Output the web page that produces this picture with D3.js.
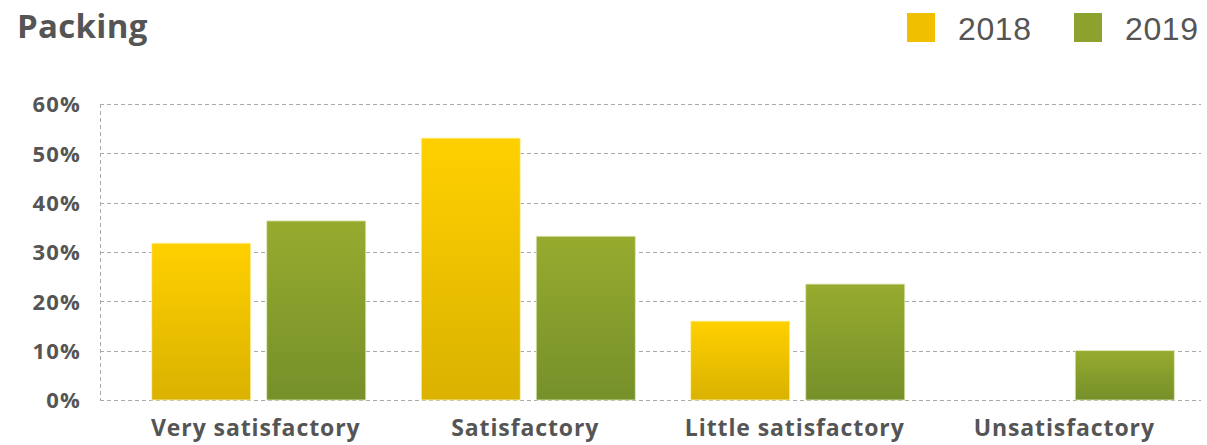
<!DOCTYPE html>
<html>
  <head>
    <meta charset="utf-8">
    <title>Packing</title>
    <script src="https://d3js.org/d3.v7.min.js"></script>
    <style>
      body { margin: 0; background: white; }
      #chart { display: block; }
      .title { font-family: "Open Sans", sans-serif; font-weight: 700; font-size: 33px; fill: #555; letter-spacing: 0.3px; }
      .tick text { font-family: "Open Sans", sans-serif; font-weight: 700; fill: #555; }
      .yaxis .tick text { font-size: 22px; letter-spacing: 1.2px; }
      .xaxis .tick text { font-size: 23px; letter-spacing: 0.9px; }
      .legend text { font-family: "Liberation Sans", Arial, sans-serif; font-size: 32px; fill: #555; letter-spacing: 0.6px; }
      .grid line { stroke: #aaa; stroke-width: 1; stroke-dasharray: 4 3; }
    </style>
  </head>
  <body>
    <svg id="chart" width="1207" height="445"></svg>
    <script>
      // data
      categories = ["Very satisfactory", "Satisfactory", "Little satisfactory", "Unsatisfactory"];
      years = ["2018", "2019"];
      values2018 = [0.318, 0.531, 0.16, 0];
      values2019 = [0.363, 0.332, 0.235, 0.10];
      yTicks = [0, 0.1, 0.2, 0.3, 0.4, 0.5, 0.6];

      svg = d3.select("#chart");
      margin = { left: 100, right: 1201, top: 104, bottom: 400 };

      // gradients
      defs = svg.append("defs");
      colours = {
        "2018": { top: "#ffd000", bottom: "#dab200", legend: "#f0c000", edge: "#fff3b8" },
        "2019": { top: "#96ab2e", bottom: "#76902a", legend: "#8ba22f", edge: "#dfe8b8" }
      };
      years.forEach(function(yr) {
        let g = defs.append("linearGradient")
          .attr("id", "grad" + yr)
          .attr("x1", 0).attr("y1", 0).attr("x2", 0).attr("y2", 1);
        g.append("stop").attr("offset", "0%").attr("stop-color", colours[yr].top);
        g.append("stop").attr("offset", "100%").attr("stop-color", colours[yr].bottom);
      });

      // scales
      x0 = d3.scaleBand()
        .domain(categories)
        .range([124, 1202]);
      x1 = d3.scaleBand()
        .domain(years)
        .range([0, x0.bandwidth()])
        .paddingInner(0.139)
        .paddingOuter(0.241);
      y = d3.scaleLinear()
        .domain([0, 0.6])
        .range([margin.bottom, margin.top]);

      // grid
      grid = svg.append("g").classed("grid", true);
      grid.selectAll(".h")
          .data(yTicks)
        .enter().append("line")
          .attr("x1", margin.left)
          .attr("x2", margin.right)
          .attr("y1", function(d) { return Math.round(y(d)) + 0.5; })
          .attr("y2", function(d) { return Math.round(y(d)) + 0.5; });
      grid.append("line")
        .attr("x1", margin.left + 0.5)
        .attr("x2", margin.left + 0.5)
        .attr("y1", y(0.6))
        .attr("y2", y(0));

      // y axis labels
      yAxis = svg.append("g")
        .classed("yaxis", true)
        .attr("transform", "translate(" + margin.left + ",0)")
        .call(d3.axisLeft(y).tickValues(yTicks).tickFormat(d3.format(".0%")).tickSize(0).tickPadding(19));
      yAxis.select(".domain").remove();
      yAxis.selectAll("text").attr("dy", "0.35em");

      // x axis labels
      xAxis = svg.append("g")
        .classed("xaxis", true)
        .attr("transform", "translate(-3," + margin.bottom + ")")
        .call(d3.axisBottom(x0).tickSize(0).tickPadding(20));
      xAxis.select(".domain").remove();
      xAxis.selectAll("text").attr("dy", "0.71em");

      // bars
      rows = categories.map(function(c, i) {
        return { category: c, values: [
          { year: "2018", value: values2018[i] },
          { year: "2019", value: values2019[i] }
        ] };
      });
      groups = svg.append("g").selectAll(".group")
          .data(rows)
        .enter().append("g")
          .attr("transform", function(d) { return "translate(" + x0(d.category) + ",0)"; });
      groups.selectAll("rect")
          .data(function(d) { return d.values.filter(function(v) { return v.value > 0; }); })
        .enter().append("rect")
          .attr("x", function(d) { return x1(d.year); })
          .attr("width", x1.bandwidth())
          .attr("y", function(d) { return y(d.value); })
          .attr("height", function(d) { return y(0) - y(d.value); })
          .attr("fill", function(d) { return "url(#grad" + d.year + ")"; })
          .attr("stroke", function(d) { return colours[d.year].edge; })
          .attr("stroke-width", 0.8);

      // title
      svg.append("text")
        .classed("title", true)
        .attr("x", 17)
        .attr("y", 38)
        .text("Packing");

      // legend
      legendX = { "2018": 907, "2019": 1074 };
      legend = svg.append("g").classed("legend", true);
      legendItems = legend.selectAll(".item")
          .data(years)
        .enter().append("g")
          .attr("transform", function(d) { return "translate(" + legendX[d] + ",13)"; });
      legendItems.append("rect")
        .attr("width", 28)
        .attr("height", 29)
        .attr("fill", function(d) { return colours[d].legend; });
      legendItems.append("text")
        .attr("x", 51)
        .attr("y", 27)
        .text(function(d) { return d; });
    </script>
  </body>
</html>
